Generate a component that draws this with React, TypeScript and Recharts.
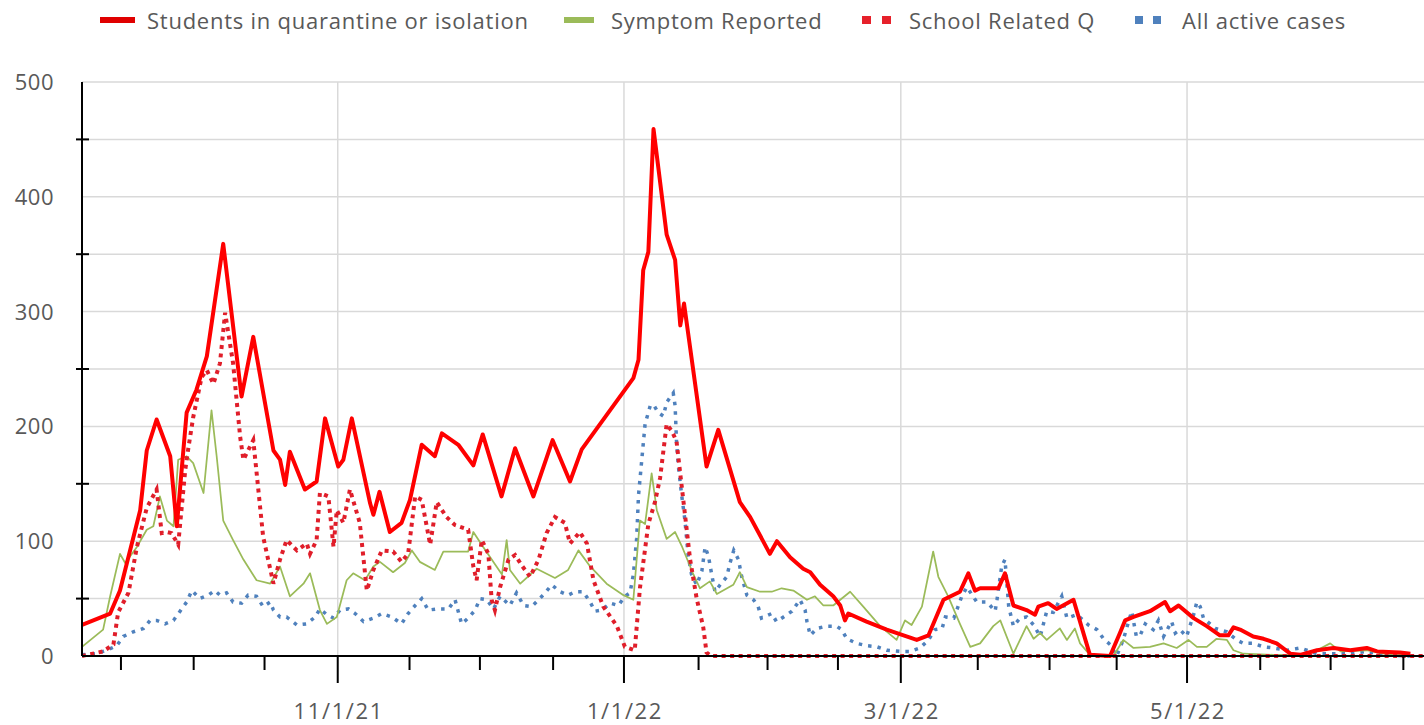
import React from 'react';
import { LineChart, Line, XAxis, YAxis, CartesianGrid, ReferenceLine } from 'recharts';

// x = days since 2021-09-01 (0 = 9/1/21)
const labeledTickDays = [61, 122, 181, 242];
const labeledTickText = ['11/1/21', '1/1/22', '3/1/22', '5/1/22'];
const minorTickDays = [14.8, 30.3, 45.4, 76.3, 91.3, 106.9, 137.9, 152.6, 167.6, 197.4, 212.7, 227.0, 257.6, 272.6, 288.1];
const yTickValues = [0, 50, 100, 150, 200, 250, 300, 350, 400, 450, 500];

const seriesNames = ['Students in quarantine or isolation', 'Symptom Reported', 'School Related Q', 'All active cases'];

const studentsQI: [number, number][] = [
  [6.5, 27], [12.5, 37], [14.6, 57], [18.9, 127], [20.3, 179], [22.4, 206], [25.3, 174], [26.7, 113], [28.8, 212], [30.9, 232],
  [33.1, 261], [36.6, 359], [40.5, 226], [43.0, 278], [47.3, 179], [48.7, 171], [49.8, 149], [50.8, 178], [54.0, 145], [56.5, 152],
  [58.3, 207], [61.1, 165], [62.2, 171], [64.0, 207], [67.9, 133], [68.6, 123], [69.9, 143], [72.1, 108], [74.6, 116], [76.4, 136],
  [78.9, 184], [81.7, 174], [83.2, 194], [86.7, 184], [89.9, 166], [91.9, 193], [95.9, 139], [98.8, 181], [102.7, 139], [106.8, 188],
  [110.5, 152], [113.0, 180], [124.0, 242], [125.1, 258], [126.1, 336], [127.2, 352], [128.3, 459], [131.1, 367], [132.9, 345], [134.0, 288],
  [134.8, 307], [139.6, 165], [142.1, 197], [146.7, 134], [148.9, 121], [153.1, 89], [154.6, 100], [157.4, 86], [160.2, 76], [161.7, 73],
  [163.8, 62], [166.6, 52], [168.1, 44], [169.1, 31], [169.8, 37], [173.7, 30], [178.0, 23], [180.8, 19], [184.4, 14], [186.9, 18],
  [190.1, 49], [193.6, 56], [195.4, 72], [196.8, 57], [197.9, 59], [201.8, 59], [203.2, 72], [205.0, 44], [207.8, 40], [209.6, 36],
  [210.3, 43], [212.4, 46], [214.2, 41], [217.8, 49], [221.3, 1], [225.6, 0], [227.7, 20], [228.8, 31], [230.6, 34], [234.1, 39],
  [237.3, 47], [238.4, 39], [240.2, 44], [243.4, 33], [246.2, 26], [249.0, 18], [250.8, 18], [251.9, 25], [253.3, 23], [256.1, 17],
  [258.3, 15], [261.1, 11], [264.0, 2], [266.1, 1], [269.7, 5], [273.2, 7], [276.8, 5], [280.3, 7], [282.5, 4], [287.4, 3], [289.6, 2],
];

const symptomReported: [number, number][] = [
  [6.5, 8], [11.0, 23], [12.5, 52], [14.6, 89], [15.7, 81], [18.2, 95], [20.3, 110], [21.7, 113], [23.1, 139], [24.6, 118],
  [26.0, 113], [27.0, 171], [28.8, 174], [30.2, 168], [32.4, 142], [34.1, 214], [35.2, 174], [36.6, 118], [38.7, 101], [40.9, 84],
  [43.7, 66], [46.6, 63], [48.7, 78], [50.8, 52], [53.7, 63], [55.1, 72], [57.2, 40], [58.7, 28], [60.8, 34], [62.9, 66],
  [64.3, 72], [66.8, 66], [68.6, 78], [70.0, 82], [72.8, 73], [75.3, 81], [76.8, 92], [78.5, 82], [81.7, 75], [83.5, 91],
  [88.8, 91], [89.9, 108], [92.0, 95], [96.0, 71], [97.0, 101], [97.7, 75], [99.9, 63], [103.4, 76], [107.3, 68], [110.1, 75],
  [112.3, 92], [114.8, 78], [118.3, 63], [121.9, 53], [124.0, 49], [125.4, 118], [126.5, 115], [127.9, 159], [129.0, 127], [131.1, 102],
  [132.9, 108], [134.3, 96], [136.8, 71], [138.2, 59], [140.3, 65], [141.8, 54], [145.3, 62], [146.7, 73], [148.2, 60], [151.0, 56],
  [153.5, 56], [155.6, 59], [158.1, 57], [161.0, 49], [162.7, 52], [164.5, 44], [166.6, 44], [168.1, 49], [170.2, 56], [173.0, 43],
  [176.6, 26], [180.1, 14], [181.9, 31], [183.3, 27], [185.5, 43], [187.9, 91], [189.0, 69], [191.1, 52], [193.6, 28], [195.8, 8],
  [197.9, 11], [200.7, 26], [202.2, 31], [205.0, 2], [206.4, 14], [207.8, 26], [209.3, 15], [210.7, 20], [212.1, 14], [214.9, 24],
  [216.4, 14], [218.1, 24], [219.2, 11], [221.3, 1], [226.3, 0], [228.4, 14], [230.6, 7], [234.1, 8], [237.0, 11], [239.8, 7],
  [242.3, 14], [244.1, 8], [246.2, 8], [248.3, 15], [250.5, 14], [251.9, 5], [254.0, 2], [260.4, 1], [266.1, 1], [269.7, 5],
  [272.5, 11], [274.7, 4], [280.3, 5], [283.8, 2], [289.5, 1],
];

const schoolRelatedQ: [number, number][] = [
  [6.5, 0], [11.0, 4], [13.2, 10], [14.2, 38], [16.4, 55], [18.2, 95], [20.3, 129], [22.4, 145], [23.5, 107], [24.6, 108],
  [25.6, 107], [27.0, 97], [28.5, 162], [29.2, 182], [30.2, 208], [32.0, 243], [33.1, 249], [34.5, 237], [35.9, 255], [37.0, 299],
  [38.7, 255], [40.2, 191], [40.9, 171], [43.0, 188], [45.1, 104], [47.3, 63], [48.7, 84], [50.1, 101], [52.3, 92], [54.4, 98],
  [55.1, 89], [56.5, 101], [57.2, 142], [59.0, 139], [60.1, 95], [60.8, 127], [62.2, 116], [63.6, 145], [65.7, 116], [67.2, 57],
  [68.6, 75], [70.4, 92], [72.8, 91], [74.6, 82], [76.0, 89], [77.5, 139], [78.9, 136], [80.7, 97], [82.1, 134], [84.2, 121],
  [86.0, 114], [88.8, 110], [89.9, 78], [90.6, 66], [91.7, 101], [93.1, 89], [93.8, 49], [94.5, 40], [95.6, 60], [97.4, 84],
  [98.8, 88], [100.2, 79], [102.0, 69], [103.8, 84], [105.5, 107], [107.3, 121], [109.4, 116], [110.5, 98], [112.6, 108], [114.1, 98],
  [115.5, 66], [117.6, 43], [120.5, 26], [122.2, 8], [124.3, 5], [125.4, 59], [127.2, 115], [128.6, 134], [129.7, 155], [131.1, 202],
  [132.2, 196], [133.2, 187], [134.7, 134], [136.1, 84], [137.5, 50], [138.9, 25], [139.6, 3], [140.5, 0], [292.5, 0],
];

const allActiveCases: [number, number][] = [
  [6.5, 1], [9.3, 2], [11.8, 5], [13.9, 9], [15.3, 17], [17.4, 21], [19.6, 24], [21.0, 31], [22.4, 31], [24.2, 28],
  [26.0, 31], [27.4, 39], [28.8, 47], [29.9, 57], [31.6, 50], [33.4, 53], [34.8, 57], [35.9, 53], [37.3, 55], [38.7, 47],
  [40.5, 46], [41.9, 53], [43.7, 52], [45.1, 43], [46.6, 47], [47.3, 40], [48.7, 34], [50.1, 34], [52.3, 27], [54.4, 28],
  [56.2, 34], [57.2, 41], [58.7, 36], [60.1, 33], [61.5, 40], [63.3, 41], [64.7, 37], [66.5, 30], [68.6, 33], [70.4, 37],
  [72.5, 34], [74.6, 28], [76.0, 37], [77.5, 44], [78.9, 50], [80.3, 40], [82.1, 41], [84.6, 41], [86.0, 49], [87.4, 28],
  [88.8, 33], [90.3, 40], [91.3, 50], [92.8, 49], [94.2, 41], [95.6, 52], [97.7, 44], [99.1, 55], [100.6, 44], [102.3, 43],
  [103.8, 49], [105.2, 55], [106.6, 62], [108.4, 56], [110.1, 53], [111.6, 56], [113.3, 56], [114.8, 47], [115.8, 39], [117.3, 40],
  [119.1, 46], [120.8, 44], [122.2, 52], [123.3, 55], [124.0, 71], [124.7, 102], [125.1, 140], [125.8, 171], [126.5, 202], [127.6, 218],
  [128.3, 219], [129.3, 212], [130.4, 209], [131.1, 221], [132.5, 229], [132.9, 218], [133.2, 187], [133.6, 165], [134.3, 140], [135.0, 118],
  [135.7, 87], [136.4, 71], [137.5, 62], [138.6, 74], [139.3, 95], [140.0, 87], [140.7, 71], [141.4, 56], [142.5, 62], [143.9, 69],
  [144.6, 81], [145.4, 92], [146.4, 84], [147.1, 69], [148.2, 53], [149.6, 49], [150.6, 43], [151.3, 33], [153.5, 37], [154.5, 30],
  [156.0, 34], [157.8, 39], [159.5, 49], [160.6, 40], [161.0, 30], [161.7, 18], [163.1, 24], [165.2, 26], [167.3, 26], [168.4, 23],
  [169.5, 15], [171.6, 11], [173.7, 9], [175.9, 8], [178.0, 5], [180.8, 4], [183.0, 4], [185.1, 7], [186.9, 14], [188.3, 23],
  [189.8, 24], [190.5, 34], [192.3, 33], [194.0, 52], [195.1, 60], [197.2, 47], [199.4, 47], [201.1, 39], [201.5, 49], [202.5, 78],
  [203.2, 84], [204.0, 43], [205.0, 26], [206.4, 33], [207.8, 34], [209.3, 27], [210.7, 17], [211.4, 28], [212.1, 39], [213.5, 38],
  [215.3, 52], [216.4, 33], [218.5, 36], [221.0, 27], [222.8, 23], [224.2, 15], [225.6, 10], [227.0, 0], [228.4, 14], [230.2, 39],
  [231.2, 17], [232.0, 18], [233.1, 28], [234.8, 23], [235.9, 31], [237.0, 17], [238.7, 30], [239.5, 20], [240.5, 23], [241.9, 17],
  [243.4, 36], [244.1, 47], [244.8, 43], [245.5, 33], [248.0, 24], [250.5, 21], [252.6, 14], [254.0, 11], [256.1, 11], [258.3, 8],
  [260.4, 7], [263.3, 5], [266.1, 7], [269.7, 2], [273.2, 2], [276.8, 2], [280.3, 4], [283.8, 1], [289.5, 0],
];

const toRows = (pairs: [number, number][]) => pairs.map(([d, v]) => ({ d, v }));

const FONT = '"Open Sans", "Noto Sans", sans-serif';
const TEXT = '#595959';

const XTick = (props: any) => {
  const { x, y, payload } = props;
  const idx = labeledTickDays.indexOf(payload.value);
  const major = idx >= 0;
  return (
    <g>
      <line x1={x} x2={x} y1={y} y2={y + (major ? 27 : 14)} stroke="#000" strokeWidth={2} />
      {major && (
        <text x={x + 1} y={y + 63} textAnchor="middle" fill={TEXT} fontSize={22} fontFamily={FONT} letterSpacing={1.6}>
          {labeledTickText[idx]}
        </text>
      )}
    </g>
  );
};

const YTick = (props: any) => {
  const { x, y, payload } = props;
  const v = payload.value;
  if (v % 100 === 0) {
    return (
      <text x={x - 28} y={y + 8} textAnchor="end" fill={TEXT} fontSize={22} fontFamily={FONT} letterSpacing={0.5}>
        {v}
      </text>
    );
  }
  return <line x1={x - 6} x2={x + 7} y1={y} y2={y} stroke="#000" strokeWidth={2} />;
};

const legendText = { fill: TEXT, fontSize: 22, fontFamily: FONT, letterSpacing: 0.75 };

const Legend = () => (
  <svg width={1424} height={45} style={{ position: 'absolute', left: 0, top: 0 }}>
    <rect x={100} y={17} width={35} height={6} fill="#e00000" />
    <text x={147} y={29} {...legendText}>{seriesNames[0]}</text>
    <rect x={564} y={17} width={30} height={6} fill="#9bbb59" />
    <text x={611} y={29} {...legendText}>{seriesNames[1]}</text>
    <rect x={862} y={16} width={9} height={8} fill="#e6202a" />
    <rect x={882} y={16} width={9} height={8} fill="#e6202a" />
    <text x={909} y={29} {...legendText}>{seriesNames[2]}</text>
    <rect x={1135} y={16} width={8} height={8} fill="#4f81bd" />
    <rect x={1153} y={16} width={8} height={8} fill="#4f81bd" />
    <text x={1182} y={29} {...legendText}>{seriesNames[3]}</text>
  </svg>
);

export default function App() {
  return (
    <div style={{ position: 'absolute', left: 0, top: 0, width: 1424, height: 725, background: '#fff' }}>
      <LineChart width={1424} height={725} margin={{ top: 82, right: 0, bottom: 0, left: 0 }}>
        <CartesianGrid vertical={false} stroke="#d9d9d9" strokeWidth={1.5} />
        {labeledTickDays.map((d) => (
          <ReferenceLine key={d} x={d} stroke="#d9d9d9" strokeWidth={1.5} />
        ))}
        <XAxis
          type="number"
          dataKey="d"
          domain={[6.5, 292.5]}
          allowDataOverflow
          ticks={[...minorTickDays, ...labeledTickDays].sort((a, b) => a - b)}
          interval={0}
          tick={<XTick />}
          tickLine={false}
          tickSize={0}
          tickMargin={0}
          axisLine={{ stroke: '#000', strokeWidth: 2 }}
          height={69}
        />
        <YAxis
          type="number"
          domain={[0, 500]}
          ticks={yTickValues}
          interval={0}
          tick={<YTick />}
          tickLine={false}
          tickSize={0}
          tickMargin={0}
          axisLine={{ stroke: '#000', strokeWidth: 2 }}
          width={82}
        />
        <Line data={toRows(allActiveCases)} dataKey="v" name={seriesNames[3]} stroke="#4f81bd" strokeWidth={3.5}
          strokeDasharray="3.5 6" dot={false} isAnimationActive={false} type="linear" />
        <Line data={toRows(symptomReported)} dataKey="v" name={seriesNames[1]} stroke="#9bbb59" strokeWidth={1.75}
          dot={false} isAnimationActive={false} type="linear" strokeLinejoin="round" />
        <Line data={toRows(schoolRelatedQ)} dataKey="v" name={seriesNames[2]} stroke="#e01e2a" strokeWidth={4}
          strokeDasharray="4 4.5" dot={false} isAnimationActive={false} type="linear" />
        <Line data={toRows(studentsQI)} dataKey="v" name={seriesNames[0]} stroke="#ff0000" strokeWidth={4}
          dot={false} isAnimationActive={false} type="linear" strokeLinejoin="round" />
      </LineChart>
      <Legend />
    </div>
  );
}
